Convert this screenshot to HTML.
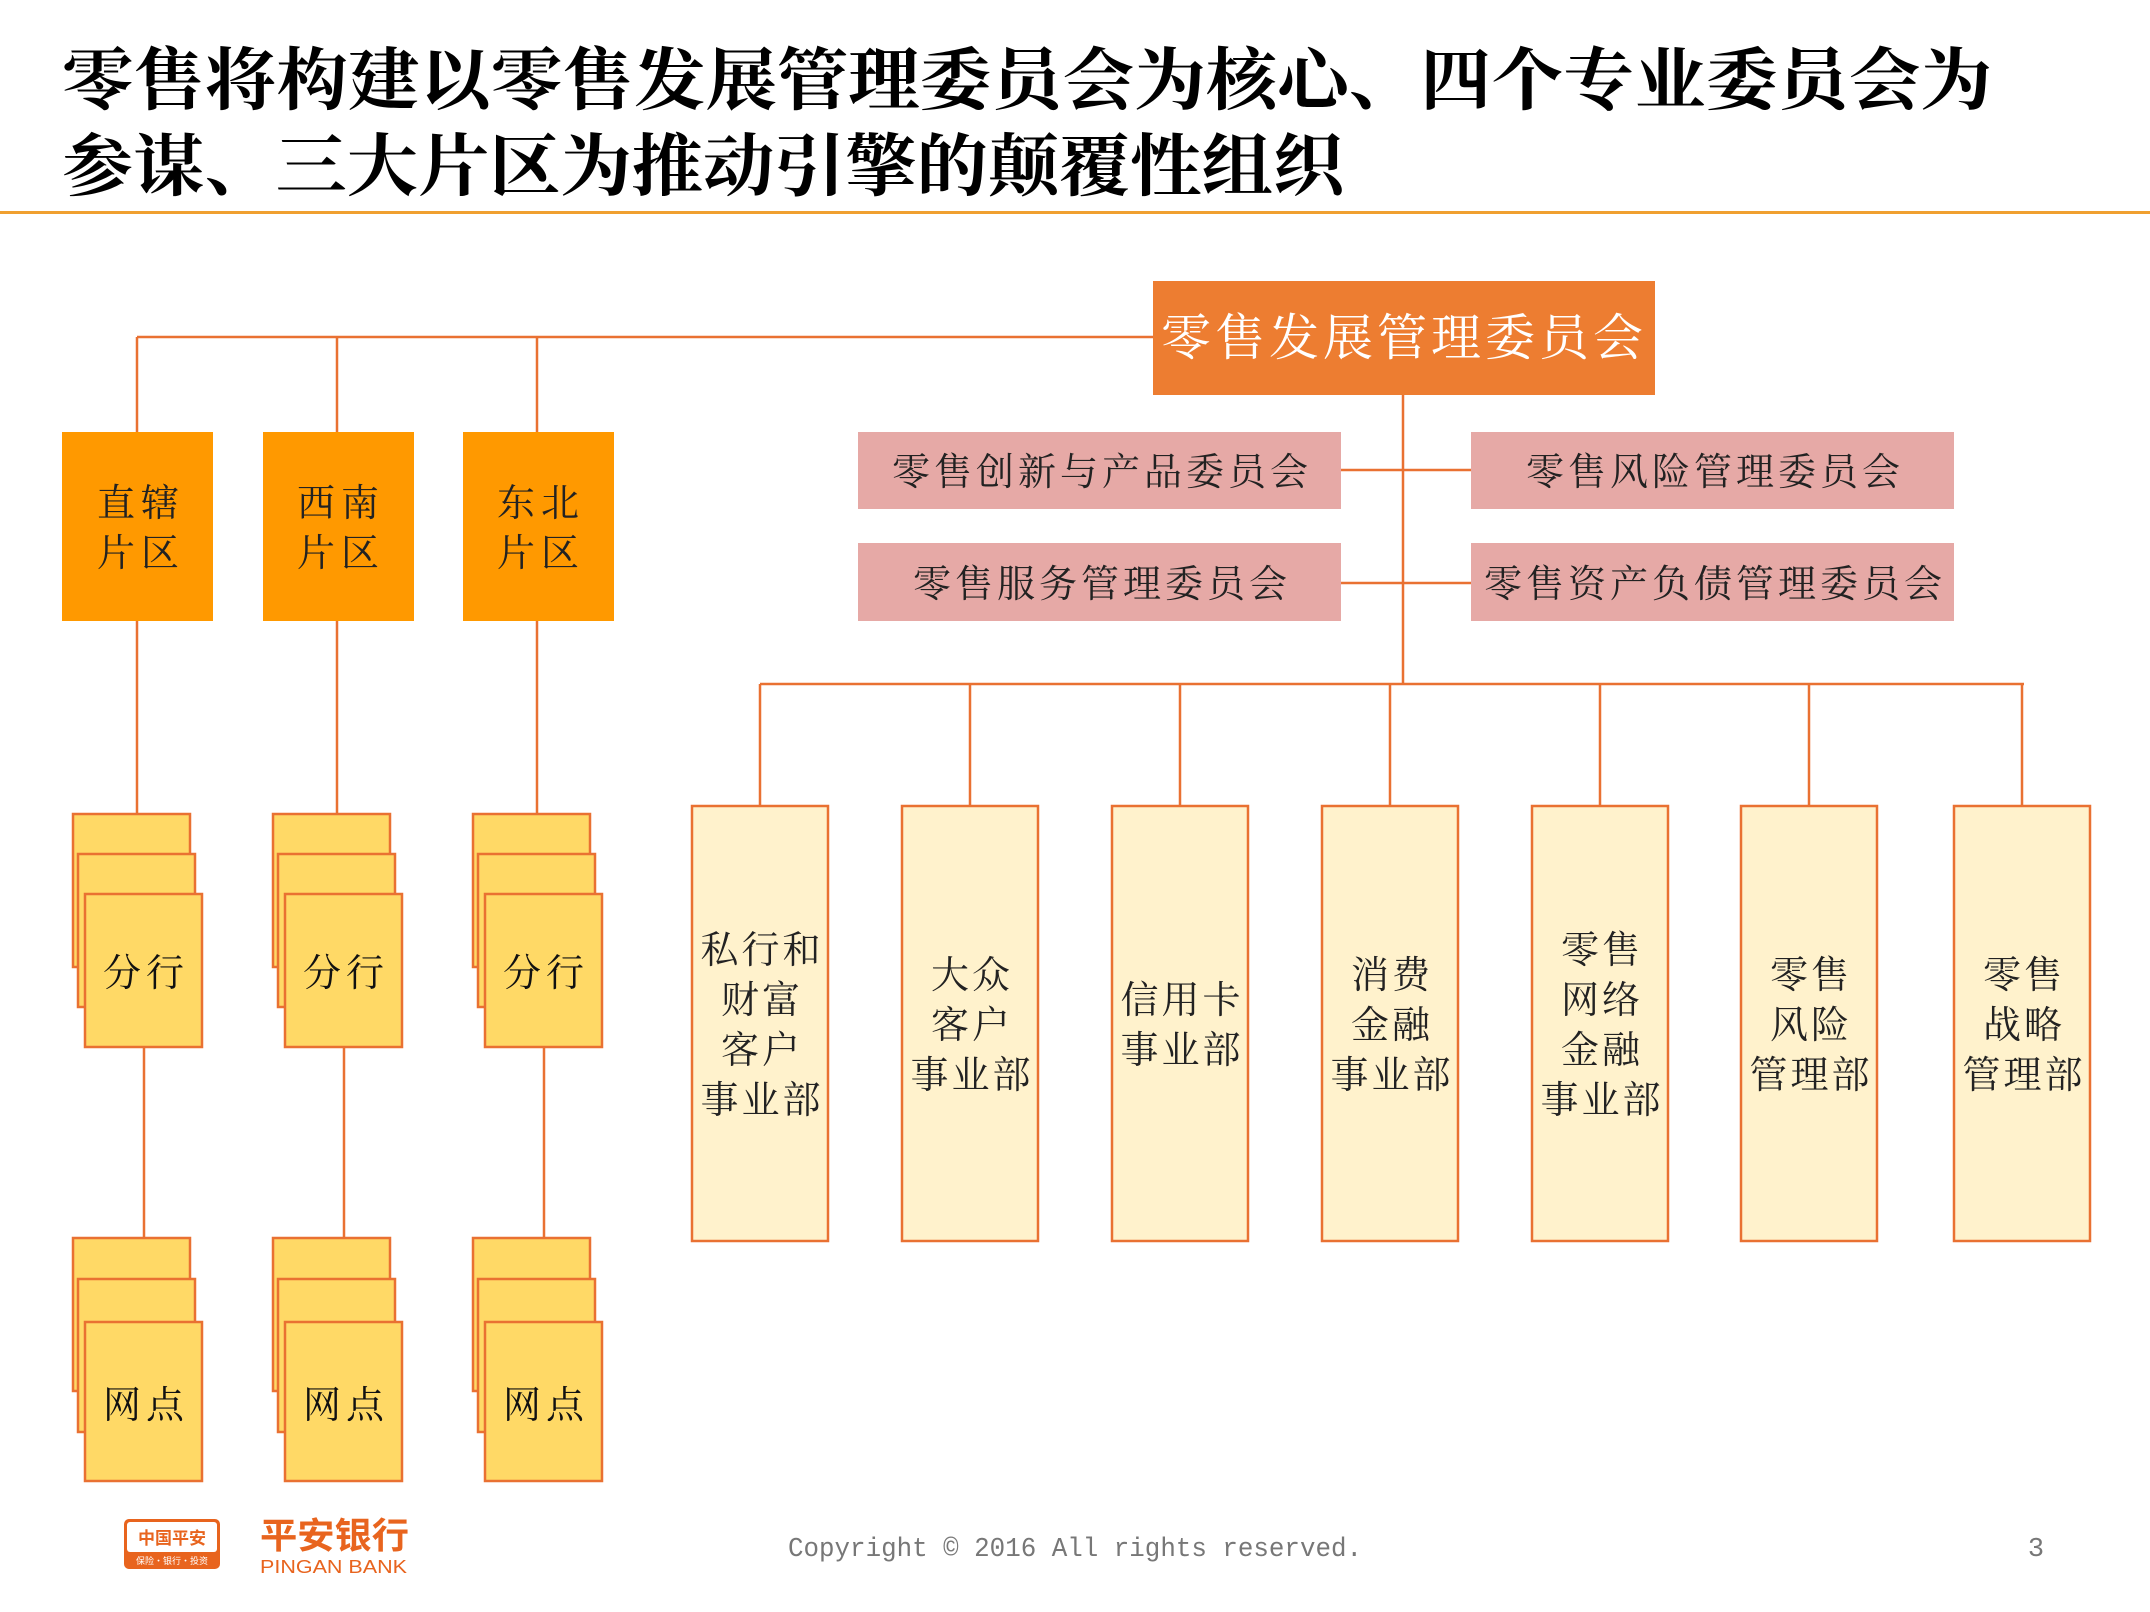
<!DOCTYPE html>
<html><head><meta charset="utf-8"><style>
body{margin:0;background:#fff}
svg{display:block}
.t{font-family:"Liberation Serif","Noto Serif CJK SC",serif}
</style></head><body>
<svg width="2150" height="1612" viewBox="0 0 2150 1612" xmlns="http://www.w3.org/2000/svg">
<g class="t" font-weight="bold" font-size="68" fill="#000">
<text x="62" y="104" textLength="1930" lengthAdjust="spacingAndGlyphs">零售将构建以零售发展管理委员会为核心、四个专业委员会为</text>
<text x="62" y="190" textLength="1282" lengthAdjust="spacingAndGlyphs">参谋、三大片区为推动引擎的颠覆性组织</text>
</g>
<rect x="0" y="211" width="2150" height="3" fill="#F0A030"/>
<g stroke="#E97132" stroke-width="2.5" fill="none">
<path d="M137 337H1153M137 337V432M337 337V432M537 337V432"/>
<path d="M1403 395V684M1341 470H1471M1341 583H1471"/>
<path d="M760 684H2024M760 684V806M970 684V806M1180 684V806M1390 684V806M1600 684V806M1809 684V806M2022 684V806"/>
<path d="M137 621V814M337 621V814M537 621V814M144 1047V1238M344 1047V1238M544 1047V1238"/>
</g>
<rect x="1153" y="281" width="502" height="114" fill="#ED7D31"/>
<text x="1404" y="355" class="t" font-size="50" fill="#fff" text-anchor="middle" letter-spacing="4">零售发展管理委员会</text>
<g fill="#FF9900">
<rect x="62" y="432" width="151" height="189"/><rect x="263" y="432" width="151" height="189"/><rect x="463" y="432" width="151" height="189"/>
</g>
<g class="t" font-size="38" fill="#222" text-anchor="middle" letter-spacing="6">
<text x="141" y="516">直辖</text><text x="141" y="566">片区</text>
<text x="341" y="516">西南</text><text x="341" y="566">片区</text>
<text x="541" y="516">东北</text><text x="541" y="566">片区</text>
</g>
<g fill="#E6A9A6">
<rect x="858" y="432" width="483" height="77"/><rect x="1471" y="432" width="483" height="77"/>
<rect x="858" y="543" width="483" height="78"/><rect x="1471" y="543" width="483" height="78"/>
</g>
<g class="t" font-size="38" fill="#222" text-anchor="middle" letter-spacing="4">
<text x="1102" y="485">零售创新与产品委员会</text><text x="1715" y="485">零售风险管理委员会</text>
<text x="1102" y="597">零售服务管理委员会</text><text x="1715" y="597">零售资产负债管理委员会</text>
</g>
<g fill="#FFD966" stroke="#E97132" stroke-width="2.5">
<rect x="73" y="814" width="117" height="153"/><rect x="78" y="854" width="117" height="153"/><rect x="85" y="894" width="117" height="153"/>
<rect x="273" y="814" width="117" height="153"/><rect x="278" y="854" width="117" height="153"/><rect x="285" y="894" width="117" height="153"/>
<rect x="473" y="814" width="117" height="153"/><rect x="478" y="854" width="117" height="153"/><rect x="485" y="894" width="117" height="153"/>
<rect x="73" y="1238" width="117" height="153"/><rect x="78" y="1279" width="117" height="153"/><rect x="85" y="1322" width="117" height="159"/>
<rect x="273" y="1238" width="117" height="153"/><rect x="278" y="1279" width="117" height="153"/><rect x="285" y="1322" width="117" height="159"/>
<rect x="473" y="1238" width="117" height="153"/><rect x="478" y="1279" width="117" height="153"/><rect x="485" y="1322" width="117" height="159"/>
</g>
<g class="t" font-size="38" fill="#111" text-anchor="middle" letter-spacing="5">
<text x="146" y="986">分行</text><text x="346" y="986">分行</text><text x="546" y="986">分行</text>
<text x="146" y="1418">网点</text><text x="346" y="1418">网点</text><text x="546" y="1418">网点</text>
</g>
<g fill="#FFF2CC" stroke="#E97132" stroke-width="2.5">
<rect x="692" y="806" width="136" height="435"/><rect x="902" y="806" width="136" height="435"/><rect x="1112" y="806" width="136" height="435"/><rect x="1322" y="806" width="136" height="435"/><rect x="1532" y="806" width="136" height="435"/><rect x="1741" y="806" width="136" height="435"/><rect x="1954" y="806" width="136" height="435"/>
</g>
<g class="t" font-size="38" fill="#222" text-anchor="middle" letter-spacing="3">
<text x="762" y="963">私行和</text><text x="762" y="1013">财富</text><text x="762" y="1063">客户</text><text x="762" y="1113">事业部</text>
<text x="972" y="988">大众</text><text x="972" y="1038">客户</text><text x="972" y="1088">事业部</text>
<text x="1182" y="1013">信用卡</text><text x="1182" y="1063">事业部</text>
<text x="1392" y="988">消费</text><text x="1392" y="1038">金融</text><text x="1392" y="1088">事业部</text>
<text x="1602" y="963">零售</text><text x="1602" y="1013">网络</text><text x="1602" y="1063">金融</text><text x="1602" y="1113">事业部</text>
<text x="1811" y="988">零售</text><text x="1811" y="1038">风险</text><text x="1811" y="1088">管理部</text>
<text x="2024" y="988">零售</text><text x="2024" y="1038">战略</text><text x="2024" y="1088">管理部</text>
</g>
<g>
<rect x="124" y="1519" width="96" height="50" rx="5" fill="#E8641E"/>
<rect x="127" y="1522" width="90" height="30" rx="3" fill="#fff"/>
<text x="172" y="1544" font-family="Liberation Sans,'Noto Sans CJK SC',sans-serif" font-weight="bold" font-size="17" fill="#E8641E" text-anchor="middle">中国平安</text>
<text x="172" y="1564" font-family="'Noto Sans CJK SC',sans-serif" font-size="9" fill="#fff" text-anchor="middle">保险·银行·投资</text>
<text x="260" y="1548" font-family="'Noto Sans CJK SC',sans-serif" font-weight="bold" font-size="36" fill="#E8641E" textLength="149" lengthAdjust="spacingAndGlyphs">平安银行</text>
<text x="260" y="1573" font-family="Liberation Sans,sans-serif" font-size="18" fill="#E8641E" textLength="147" lengthAdjust="spacingAndGlyphs">PINGAN BANK</text>
</g>
<text x="788" y="1556" font-family="Liberation Mono,monospace" font-size="27" fill="#777" textLength="574" lengthAdjust="spacingAndGlyphs">Copyright © 2016 All rights reserved.</text>
<text x="2036" y="1556" font-family="Liberation Mono,monospace" font-size="27" fill="#777" text-anchor="middle">3</text>
</svg>
</body></html>
